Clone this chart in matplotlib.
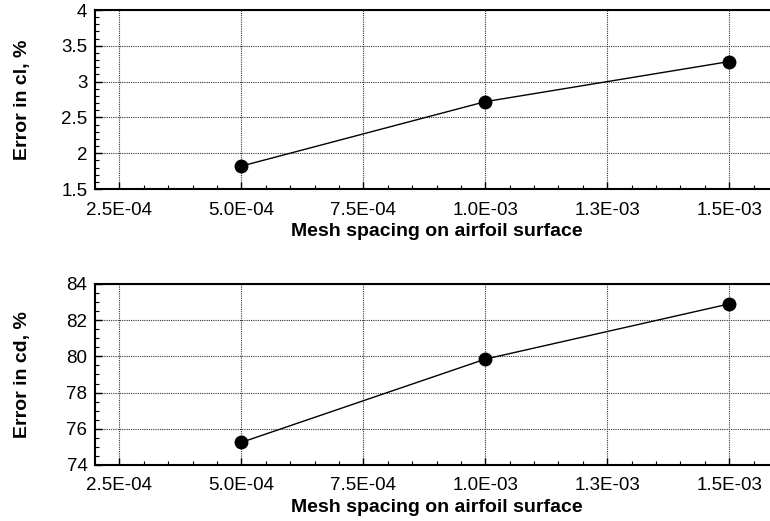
import matplotlib
matplotlib.use("Agg")
import matplotlib.pyplot as plt
from matplotlib.ticker import MultipleLocator, FuncFormatter

# mesh spacing and the resulting errors
spacing = [5.0e-4, 1.0e-3, 1.5e-3]
err_cl = [1.82, 2.72, 3.28]
err_cd = [75.25, 79.85, 82.9]

x_ticks = [2.5e-4, 5.0e-4, 7.5e-4, 1.0e-3, 1.25e-3, 1.5e-3]

plt.rcParams['font.family'] = ['Liberation Sans', 'DejaVu Sans']


def sci_label(x, pos):
    return '%.1E' % x


def style_axes(ax, ylim, ymajor, yminor, ylabel):
    ax.set_xlim(2.0e-4, 1.6e-3)
    ax.set_ylim(*ylim)
    ax.set_xticks(x_ticks)
    ax.xaxis.set_minor_locator(MultipleLocator(5e-5))
    ax.xaxis.set_major_formatter(FuncFormatter(sci_label))
    ax.yaxis.set_major_locator(MultipleLocator(ymajor))
    ax.yaxis.set_minor_locator(MultipleLocator(yminor))
    ax.yaxis.set_major_formatter(FuncFormatter(lambda v, p: '%g' % v))
    ax.tick_params(which='both', direction='in', top=False, right=False,
                   labelsize=13.5)
    ax.tick_params(axis='x', pad=9)
    ax.tick_params(axis='y', pad=5.5)
    ax.tick_params(which='major', length=5, width=1)
    ax.tick_params(which='minor', length=3, width=0.8)
    ax.grid(True, which='major', linestyle=(0, (1, 1)), color='#333333',
            linewidth=0.8)
    for s in ax.spines.values():
        s.set_linewidth(1.5)
    ax.set_xlabel('Mesh spacing on airfoil surface', fontsize=14,
                  fontweight='bold', labelpad=3)
    ax.set_ylabel(ylabel, fontsize=14, fontweight='bold')
    ax.yaxis.set_label_coords(-0.094, 0.5)


fig = plt.figure(figsize=(7.7, 5.21), dpi=100)
ax1 = fig.add_axes([0.1234, 0.6372, 0.887, 0.3436])
ax2 = fig.add_axes([0.1234, 0.1075, 0.887, 0.3474])

ax1.plot(spacing, err_cl, color='black', linewidth=1, marker='o',
         markersize=9, zorder=3)
style_axes(ax1, (1.5, 4), 0.5, 0.1, 'Error in cl, %')

ax2.plot(spacing, err_cd, color='black', linewidth=1, marker='o',
         markersize=9, zorder=3)
style_axes(ax2, (74, 84), 2, 0.5, 'Error in cd, %')

fig.savefig('out.png', dpi=100)
